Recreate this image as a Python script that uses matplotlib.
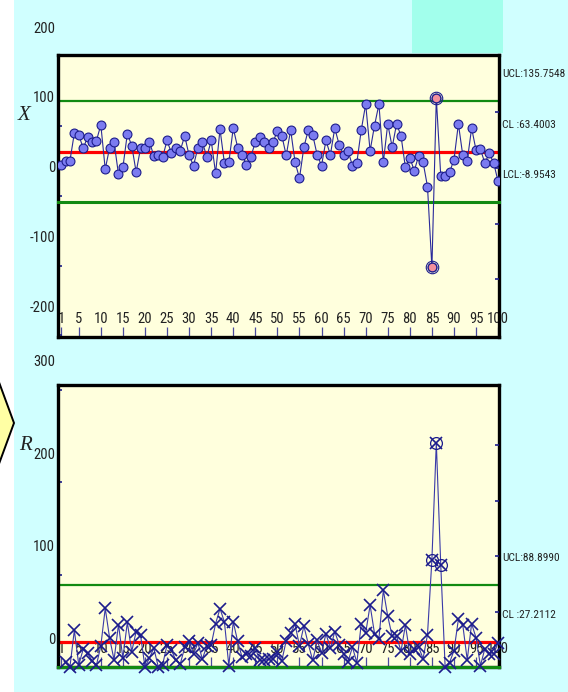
import numpy as np
import matplotlib
matplotlib.use('Agg')
import matplotlib.pyplot as plt
from matplotlib import font_manager
from matplotlib.patches import Rectangle, Polygon
from matplotlib.transforms import ScaledTranslation, blended_transform_factory

DPI = 100
W, H = 568, 692

# look for a narrow / condensed face for the labels
entries = font_manager.fontManager.ttflist
names = {f.name for f in entries}
NARROW, STRETCH = None, 'normal'
for cand in ['Liberation Sans Narrow', 'Roboto Condensed', 'Open Sans Condensed',
             'DejaVu Sans Condensed', 'Noto Sans Condensed', 'Noto Sans SemiCondensed']:
    if cand in names:
        NARROW = cand
        break
if NARROW is None:
    extra = sorted(n for n in names if ('Narrow' in n or 'Condensed' in n)
                   and 'Mono' not in n and 'Serif' not in n)
    if extra:
        NARROW = extra[0]
if NARROW is None:
    cond = [f.name for f in entries
            if str(f.stretch) in ('condensed', 'semi-condensed', 'extra-condensed')
            and 'Mono' not in f.name and 'Serif' not in f.name]
    NARROW = cond[0] if cond else 'DejaVu Sans'
    STRETCH = 'condensed'
plt.rcParams['font.family'] = [NARROW, 'DejaVu Sans']
plt.rcParams['font.stretch'] = STRETCH
plt.rcParams['axes.unicode_minus'] = False

# X values (individuals)
x_vals = [44.3, 50.0, 50.0, 89.7, 87.3, 68.2, 83.5, 76.8, 78.7, 101.6,
          38.1, 69.1, 76.8, 30.9, 40.5, 88.7, 72.0, 33.8, 68.2, 68.2,
          77.7, 57.2, 57.7, 55.3, 79.2, 61.0, 68.2, 64.8, 85.9, 57.7,
          43.3, 69.1, 77.7, 55.3, 79.2, 32.3, 95.4, 46.7, 48.1, 96.9,
          69.1, 58.6, 44.3, 56.2, 76.8, 83.9, 76.8, 68.2, 76.8, 93.0,
          86.3, 57.7, 94.4, 48.1, 25.2, 69.6, 94.4, 87.3, 58.6, 43.3,
          79.2, 58.6, 96.9, 72.9, 58.6, 64.4, 42.9, 47.6, 94.4, 131.2,
          64.4, 100.6, 131.2, 48.1, 103.0, 69.6, 103.0, 85.9, 40.5, 54.8,
          35.7, 57.2, 48.1, 13.2, -102.8, 139.8, 29.0, 29.0, 33.8, 51.5,
          103.0, 57.7, 50.0, 96.9, 65.3, 66.7, 46.7, 61.0, 46.7, 20.5]

# moving ranges, samples 2..100
r_vals = [5.7, 0.0, 39.7, 2.4, 19.1, 15.3, 6.7, 1.9, 22.9, 63.5,
          31.0, 7.7, 45.9, 9.6, 48.2, 16.7, 38.2, 34.4, 0.0, 9.5,
          20.5, 0.5, 2.4, 23.9, 18.2, 7.2, 3.4, 21.1, 28.2, 14.4,
          25.8, 8.6, 22.4, 23.9, 46.9, 63.1, 48.7, 1.4, 48.8, 27.8,
          10.5, 14.3, 11.9, 20.6, 7.1, 7.1, 8.6, 8.6, 16.2, 6.7,
          28.6, 36.7, 46.3, 22.9, 44.4, 24.8, 7.1, 28.7, 15.3, 35.9,
          20.6, 38.3, 24.0, 14.3, 5.8, 21.5, 4.7, 46.8, 36.8, 66.8,
          36.2, 30.6, 83.1, 54.9, 33.4, 33.4, 17.1, 45.4, 14.3, 19.1,
          21.5, 9.1, 34.9, 116.0, 242.6, 110.8, 0.0, 4.8, 17.7, 51.5,
          45.3, 7.7, 46.9, 31.6, 1.4, 20.0, 14.3, 14.3, 26.2]

x_limits = [135.7548, 63.4003, -8.9543]   # UCL, CL, LCL
r_limits = [88.8990, 27.2112, 0.0]
x_lim_labels = ['UCL:135.7548', 'CL :63.4003', 'LCL:-8.9543']
r_lim_labels = ['UCL:88.8990', 'CL :27.2112']
x_ticks = [1, 5, 10, 15, 20, 25, 30, 35, 40, 45, 50, 55, 60, 65, 70, 75, 80, 85, 90, 95, 100]
x_out = [85, 86]
r_out = [85, 86, 87]

NAVY = '#1c1c8c'
GREEN = '#118a11'
TEXT_UP = 29  # every text in the screenshot sits ~29 px above its tick
TICK_FS = 10.5 if STRETCH == 'normal' or NARROW != 'DejaVu Sans' else 8
LIM_FS = 8.2

fig = plt.figure(figsize=(W / DPI, H / DPI), dpi=DPI)
fig.patch.set_facecolor('white')


def frac(x, y, w, h):
    return [x / W, 1 - (y + h) / H, w / W, h / H]


# backdrop (below the axes)
fig.patches.append(Rectangle((14 / W, 0), 1 - 14 / W, 1, transform=fig.transFigure,
                             facecolor='#d0ffff', edgecolor='none', zorder=-3))
fig.patches.append(Rectangle((412 / W, 1 - 53 / H), 91 / W, 53 / H, transform=fig.transFigure,
                             facecolor='#a2ffec', edgecolor='none', zorder=-2))
pts = [(-4, 374), (14, 423), (-4, 472)]
fig.patches.append(Polygon([(px / W, 1 - py / H) for px, py in pts], closed=True,
                           transform=fig.transFigure, facecolor='#ffffa4',
                           edgecolor='black', linewidth=1.4, zorder=-1))


def setup(ax, ylim, yticks, rticks, limits, lim_labels):
    ax.set_facecolor('#ffffdd')
    ax.set_xlim(0.3, 100.2)
    ax.set_ylim(*ylim)
    ax.set_xticks(x_ticks)
    ax.set_yticks(yticks)
    ax.tick_params(axis='x', direction='in', length=7, width=0.9, color='#4a4aa0',
                   labelsize=TICK_FS, labelcolor='#222222', pad=3)
    ax.tick_params(axis='y', direction='in', length=3, width=1.2, color=NAVY,
                   labelsize=TICK_FS, labelcolor='#222222', pad=2)
    for s in ax.spines.values():
        s.set_linewidth(2.4)
        s.set_color('black')
    up = ScaledTranslation(0, TEXT_UP / DPI, fig.dpi_scale_trans)
    for lab in ax.get_xticklabels() + ax.get_yticklabels():
        lab.set_transform(lab.get_transform() + up)

    tw = ax.twinx()
    tw.set_ylim(*ylim)
    tw.set_yticks(rticks)
    tw.tick_params(direction='in', length=3, width=1.2, color=NAVY, labelright=False)
    for s in tw.spines.values():
        s.set_visible(False)

    # control lines
    ax.axhline(limits[0], color=GREEN, lw=1.6, zorder=2)
    ax.axhline(limits[1], color='#ff0000', lw=2.3, zorder=2)
    ax.axhline(limits[2], color=GREEN, lw=2.2, zorder=2.6, clip_on=False)

    tr = blended_transform_factory(ax.transAxes, ax.transData) + \
        ScaledTranslation(3 / DPI, (TEXT_UP - 2) / DPI, fig.dpi_scale_trans)
    for val, txt in zip(limits, lim_labels):
        ax.text(1.0, val, txt, transform=tr, ha='left', va='center',
                fontsize=LIM_FS, color='#222222')


# X chart
ax1 = fig.add_axes(frac(58, 55, 441, 282))
setup(ax1, (-202.4, 201.7), [-200, -100, 0, 100, 200], [-120, -40, 40, 120],
      x_limits, x_lim_labels)
idx = np.arange(1, len(x_vals) + 1)
ax1.plot(idx, x_vals, color='#2a2a9a', lw=0.8, marker='o', ms=6.4,
         mfc='#7b7bf0', mec=NAVY, mew=0.8, zorder=4)
xo = [x_vals[i - 1] for i in x_out]
ax1.plot(x_out, xo, ls='none', marker='o', ms=6.2, mfc='#f4909c', mec=NAVY,
         mew=0.8, zorder=5)
ax1.plot(x_out, xo, ls='none', marker='o', ms=9, mfc='none', mec=NAVY,
         mew=0.8, zorder=5)

# R chart
ax2 = fig.add_axes(frac(58, 385, 441, 282))
setup(ax2, (0, 305), [0, 100, 200, 300], [60, 120, 180, 240],
      r_limits, r_lim_labels)
ridx = np.arange(2, len(r_vals) + 2)
ax2.plot(ridx, r_vals, color='#3a3aa8', lw=0.8, zorder=4)
ax2.plot(ridx, r_vals, ls='none', marker='x', ms=8, mec=NAVY, mew=1.2,
         zorder=5, clip_on=False)
ro = [r_vals[i - 2] for i in r_out]
ax2.plot(r_out, ro, ls='none', marker='o', ms=8.5, mfc='none', mec=NAVY,
         mew=0.9, zorder=5)

fig.text(24 / W, 1 - 115 / H, 'X', family=['Liberation Serif', 'DejaVu Serif'],
         style='italic', stretch='normal', fontsize=15, ha='center', va='center',
         color='#222222')
fig.text(25 / W, 1 - 446 / H, 'R', family=['Liberation Serif', 'DejaVu Serif'],
         style='italic', stretch='normal', fontsize=15, ha='center', va='center',
         color='#222222')

fig.savefig('out.png', dpi=DPI, facecolor=fig.get_facecolor())
